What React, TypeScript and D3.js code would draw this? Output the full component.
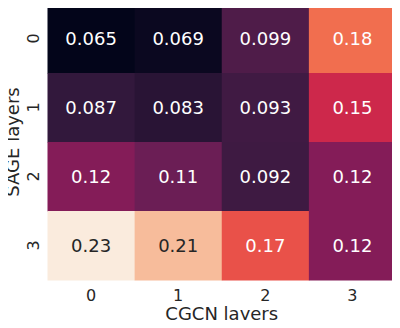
import { useRef, useEffect } from 'react';
import * as d3 from 'd3';

const sageLayers = ['0', '1', '2', '3'];
const cgcnLayers = ['0', '1', '2', '3'];
const row0 = [0.065, 0.069, 0.099, 0.18];
const row1 = [0.087, 0.083, 0.093, 0.15];
const row2 = [0.12, 0.11, 0.092, 0.12];
const row3 = [0.23, 0.21, 0.17, 0.12];
const rows = [row0, row1, row2, row3];

// seaborn "rocket" colormap stops
const rocket = ['#03051A', '#35193E', '#701F57', '#AD1759', '#E13342', '#F37651', '#F6B48F', '#FAEBDD'];

const luminance = (c: string) => {
  const rgb = d3.rgb(c);
  const lin = (v: number) => {
    const s = v / 255;
    return s <= 0.03928 ? s / 12.92 : Math.pow((s + 0.055) / 1.055, 2.4);
  };
  return 0.2126 * lin(rgb.r) + 0.7152 * lin(rgb.g) + 0.0722 * lin(rgb.b);
};

const Heatmap = () => {
  const svgRef = useRef<SVGSVGElement>(null);

  useEffect(() => {
    const svg = d3.select(svgRef.current);
    svg.selectAll('*').remove();
    const width = 400;
    const height = 328;
    const margin = { top: 4, right: 4, bottom: 48, left: 47.5 };

    const x = d3.scaleBand().domain(cgcnLayers).range([margin.left, width - margin.right]);
    const y = d3.scaleBand().domain(sageLayers).range([margin.top, height - margin.bottom]);

    const all = rows.flat();
    const color = d3.scaleSequential(d3.piecewise(d3.interpolateRgb, rocket))
      .domain(d3.extent(all) as [number, number]);

    const cells = rows.flatMap((r, i) => r.map((v, j) => ({ row: sageLayers[i], col: cgcnLayers[j], v })));

    const font = 'DejaVu Sans, sans-serif';

    svg.append('g')
      .selectAll('rect')
      .data(cells)
      .join('rect')
      .attr('x', d => x(d.col)!)
      .attr('y', d => y(d.row)!)
      .attr('width', x.bandwidth() + 0.5)
      .attr('height', y.bandwidth() + 0.5)
      .attr('fill', d => color(d.v));

    svg.append('g')
      .selectAll('text')
      .data(cells)
      .join('text')
      .attr('x', d => x(d.col)! + x.bandwidth() / 2)
      .attr('y', d => y(d.row)! + y.bandwidth() / 2)
      .attr('text-anchor', 'middle')
      .attr('dominant-baseline', 'central')
      .attr('font-family', font)
      .attr('font-size', 18)
      .attr('fill', d => (luminance(color(d.v)) > 0.408 ? '#262626' : '#ffffff'))
      .text(d => String(d.v));

    // x tick labels
    svg.append('g')
      .selectAll('text')
      .data(cgcnLayers)
      .join('text')
      .attr('x', d => x(d)! + x.bandwidth() / 2)
      .attr('y', height - margin.bottom + 15)
      .attr('text-anchor', 'middle')
      .attr('dominant-baseline', 'central')
      .attr('font-family', font)
      .attr('font-size', 16)
      .attr('fill', '#262626')
      .text(d => d);

    // y tick labels, rotated
    svg.append('g')
      .selectAll('text')
      .data(sageLayers)
      .join('text')
      .attr('transform', d => `translate(${margin.left - 14},${y(d)! + y.bandwidth() / 2}) rotate(-90)`)
      .attr('text-anchor', 'middle')
      .attr('dominant-baseline', 'central')
      .attr('font-family', font)
      .attr('font-size', 16)
      .attr('fill', '#262626')
      .text(d => d);

    svg.append('text')
      .attr('x', margin.left + (width - margin.right - margin.left) / 2)
      .attr('y', 320)
      .attr('text-anchor', 'middle')
      .attr('font-family', font)
      .attr('font-size', 18)
      .attr('fill', '#262626')
      .text('CGCN layers');

    svg.append('text')
      .attr('transform', `translate(19,${margin.top + (height - margin.bottom - margin.top) / 2}) rotate(-90)`)
      .attr('text-anchor', 'middle')
      .attr('font-family', font)
      .attr('font-size', 18)
      .attr('fill', '#262626')
      .text('SAGE layers');
  }, []);

  return <svg ref={svgRef} width={400} height={328} style={{ display: 'block' }}></svg>;
};

export default function App() {
  return (
    <div style={{ margin: -8 }}>
      <Heatmap />
    </div>
  );
}
